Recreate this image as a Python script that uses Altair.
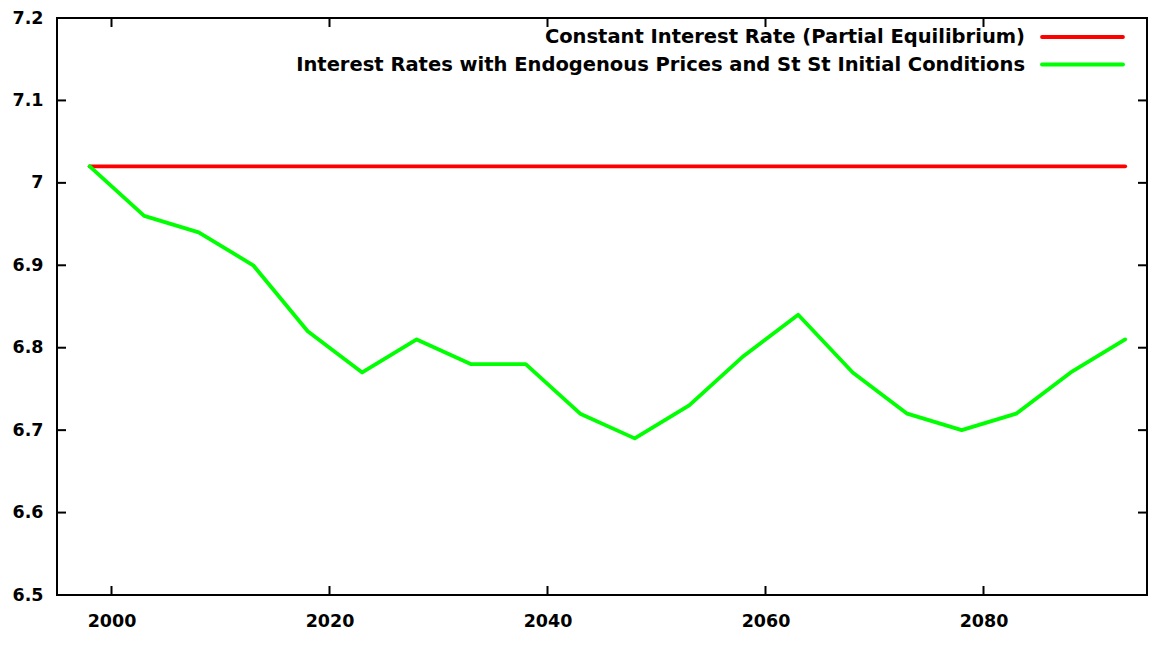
import pandas as pd
import altair as alt

# model years (5-year steps)
years = [1998, 2003, 2008, 2013, 2018, 2023, 2028, 2033, 2038, 2043,
         2048, 2053, 2058, 2063, 2068, 2073, 2078, 2083, 2088, 2093]
endog_rates = [7.02, 6.96, 6.94, 6.90, 6.82, 6.77, 6.81, 6.78, 6.78, 6.72,
               6.69, 6.73, 6.79, 6.84, 6.77, 6.72, 6.70, 6.72, 6.77, 6.81]
const_years = [1998, 2093]
const_rates = [7.02, 7.02]

series_names = ["Constant Interest Rate (Partial Equilibrium)",
                "Interest Rates with Endogenous Prices and St St Initial Conditions"]
series_colors = ["#ff0000", "#00ff00"]

x_ticks = [2000, 2020, 2040, 2060, 2080]
y_ticks = [6.5, 6.6, 6.7, 6.8, 6.9, 7.0, 7.1, 7.2]
x_domain = [1995, 2095]
y_domain = [6.5, 7.2]

W, H = 1090, 577
FONT = "DejaVu Sans"

df = pd.concat([
    pd.DataFrame({"year": const_years, "rate": const_rates, "series": series_names[0]}),
    pd.DataFrame({"year": years, "rate": endog_rates, "series": series_names[1]}),
])

xs = alt.Scale(domain=x_domain, nice=False, zero=False)
ys = alt.Scale(domain=y_domain, nice=False, zero=False)
x_axis = alt.Axis(values=x_ticks, format="d", labelPadding=17)
y_axis = alt.Axis(values=y_ticks, format="~g", labelPadding=14)
X = alt.X("year:Q", scale=xs, title=None, axis=x_axis)
Y = alt.Y("rate:Q", scale=ys, title=None, axis=y_axis)

lines = alt.Chart(df).mark_line(strokeWidth=3.8, strokeCap="round", strokeJoin="round").encode(
    x=X, y=Y,
    color=alt.Color("series:N", scale=alt.Scale(domain=series_names, range=series_colors),
                    legend=None),
    detail="series:N",
)

# inward ticks on all four sides, like gnuplot
xt = pd.DataFrame({"year": x_ticks})
yt = pd.DataFrame({"rate": y_ticks})
tick = dict(color="black", strokeWidth=2)
ticks = [
    alt.Chart(xt).mark_rule(**tick).encode(x=X, y=alt.value(H), y2=alt.value(H - 9)),
    alt.Chart(xt).mark_rule(**tick).encode(x=X, y=alt.value(0), y2=alt.value(9)),
    alt.Chart(yt).mark_rule(**tick).encode(y=Y, x=alt.value(0), x2=alt.value(9)),
    alt.Chart(yt).mark_rule(**tick).encode(y=Y, x=alt.value(W), x2=alt.value(W - 9)),
]

# gnuplot style key: label on the left, line sample on the right
key = []
for i, (name, col) in enumerate(zip(series_names, series_colors)):
    row_y = 19 + i * 27.5
    kdf = pd.DataFrame({"label": [name]})
    key.append(alt.Chart(kdf).mark_text(align="right", baseline="middle", font=FONT,
                                        fontSize=19.5, fontWeight="bold", color="black").encode(
        text="label:N", x=alt.value(968), y=alt.value(row_y)))
    key.append(alt.Chart(kdf).mark_rule(color=col, strokeWidth=3.8, strokeCap="round").encode(
        x=alt.value(985), x2=alt.value(1066), y=alt.value(row_y)))

chart = alt.layer(lines, *ticks, *key).properties(
    width=W, height=H,
    autosize=alt.AutoSizeParams(type="none"),
    padding={"left": 49, "top": 10, "right": 1, "bottom": 38},
).configure_view(
    stroke="black", strokeWidth=2
).configure_axis(
    domain=False, ticks=False, tickSize=0, grid=False,
    labelFont=FONT, labelFontSize=17.5, labelFontWeight="bold", labelColor="black",
)

chart.save("out.html", embed_options={"renderer": "svg", "actions": False})
